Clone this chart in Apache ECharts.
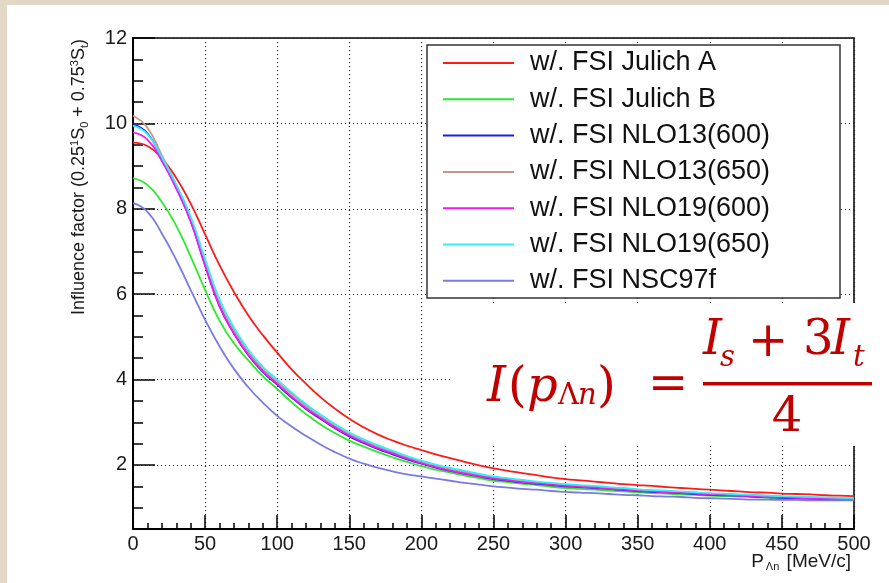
<!DOCTYPE html>
<html>
<head>
<meta charset="utf-8">
<script src="https://cdn.jsdelivr.net/npm/echarts@6/dist/echarts.min.js"></script>
<style>
  html, body { margin:0; padding:0; width:889px; height:583px; overflow:hidden; background:#e3d8c5; }
  #panel { position:absolute; left:7px; top:5px; width:882px; height:578px; background:#ffffff; }
  #chart { position:absolute; left:0; top:0; width:889px; height:583px; }
</style>
</head>
<body>
<div id="panel"></div>
<div id="chart"></div>
<script>
// momentum P_Λn [MeV/c], 0..500 in steps of 10
const xs = [0,10,20,30,40,50,60,70,80,90,100,110,120,130,140,150,160,170,180,190,200,210,220,230,240,250,260,270,280,290,300,310,320,330,340,350,360,370,380,390,400,410,420,430,440,450,460,470,480,490,500];
const julichA = [9.55,9.47,9.18,8.72,8.12,7.40,6.68,6.05,5.50,5.04,4.63,4.24,3.90,3.59,3.32,3.08,2.88,2.71,2.57,2.45,2.35,2.25,2.16,2.07,1.99,1.92,1.86,1.81,1.76,1.71,1.67,1.64,1.61,1.58,1.55,1.53,1.51,1.48,1.46,1.44,1.42,1.40,1.38,1.36,1.35,1.33,1.32,1.31,1.29,1.28,1.27];
const julichB = [8.72,8.56,8.16,7.60,6.88,6.10,5.38,4.85,4.45,4.08,3.78,3.47,3.19,2.95,2.75,2.57,2.43,2.30,2.18,2.07,1.97,1.89,1.82,1.75,1.69,1.63,1.60,1.56,1.53,1.49,1.46,1.44,1.42,1.40,1.38,1.36,1.34,1.33,1.31,1.30,1.28,1.27,1.26,1.25,1.23,1.22,1.21,1.20,1.19,1.19,1.18];
const nlo13_600 = [9.98,9.77,9.17,8.50,7.72,6.68,5.72,5.08,4.57,4.18,3.88,3.58,3.31,3.08,2.86,2.67,2.51,2.37,2.25,2.13,2.03,1.94,1.86,1.79,1.73,1.67,1.63,1.59,1.56,1.53,1.50,1.48,1.46,1.44,1.41,1.39,1.37,1.36,1.34,1.32,1.30,1.29,1.28,1.26,1.25,1.23,1.22,1.21,1.20,1.20,1.19];
const nlo13_650 = [10.18,9.90,9.25,8.56,7.78,6.76,5.82,5.16,4.65,4.25,3.95,3.66,3.38,3.14,2.92,2.73,2.57,2.43,2.30,2.18,2.08,1.99,1.91,1.84,1.77,1.71,1.67,1.63,1.59,1.56,1.53,1.51,1.49,1.46,1.44,1.42,1.40,1.38,1.36,1.35,1.33,1.32,1.30,1.29,1.28,1.26,1.25,1.24,1.23,1.22,1.21];
const nlo19_600 = [9.79,9.62,9.12,8.47,7.70,6.67,5.72,5.08,4.58,4.20,3.90,3.60,3.33,3.10,2.88,2.69,2.53,2.39,2.27,2.15,2.04,1.95,1.87,1.80,1.74,1.68,1.64,1.60,1.57,1.54,1.51,1.49,1.47,1.44,1.42,1.40,1.38,1.36,1.35,1.33,1.31,1.30,1.28,1.27,1.25,1.24,1.23,1.22,1.21,1.20,1.19];
const nlo19_650 = [9.95,9.75,9.20,8.56,7.82,6.82,5.88,5.22,4.70,4.30,4.00,3.70,3.42,3.18,2.96,2.76,2.60,2.46,2.33,2.21,2.10,2.01,1.93,1.86,1.79,1.73,1.69,1.65,1.61,1.58,1.55,1.53,1.51,1.48,1.46,1.43,1.41,1.40,1.38,1.36,1.34,1.33,1.31,1.30,1.28,1.27,1.26,1.25,1.24,1.23,1.22];
const nsc97f = [8.13,7.93,7.42,6.80,6.10,5.40,4.78,4.25,3.82,3.46,3.15,2.90,2.68,2.48,2.30,2.15,2.03,1.93,1.85,1.78,1.73,1.68,1.63,1.58,1.54,1.50,1.47,1.44,1.42,1.39,1.37,1.35,1.34,1.32,1.30,1.29,1.27,1.26,1.25,1.23,1.22,1.21,1.20,1.19,1.19,1.18,1.18,1.17,1.17,1.17,1.17];

const seriesNames = ['w/. FSI Julich A','w/. FSI Julich B','w/. FSI NLO13(600)','w/. FSI NLO13(650)','w/. FSI NLO19(600)','w/. FSI NLO19(650)','w/. FSI NSC97f'];
const seriesValues = [julichA, julichB, nlo13_600, nlo13_650, nlo19_600, nlo19_650, nsc97f];
const seriesColors = ['#ff1a1a','#2ee82e','#1a1af0','#c8948c','#f01af0','#2ef0f8','#7a7ae4'];

const yMajorTicks = [2,4,6,8,10,12];
const yMinorTicks = [0.5,1,1.5,2.5,3,3.5,4.5,5,5.5,6.5,7,7.5,8.5,9,9.5,10.5,11,11.5];

const chart = echarts.init(document.getElementById('chart'), null, {renderer:'canvas'});

const series = seriesNames.map((name, i) => ({
  name: name,
  type: 'line',
  data: xs.map((x, k) => [x, seriesValues[i][k]]),
  smooth: 0.5,
  symbol: 'none',
  showSymbol: false,
  lineStyle: { color: seriesColors[i], width: 1.8 },
  itemStyle: { color: seriesColors[i] },
  z: 2
}));

const F = 'DejaVu Serif';
const RED = '#c00000';
function ftext(t, x, baseline, size, italic, align) {
  return {
    type: 'text', x: x, y: baseline - 0.346 * size, z: 11,
    style: {
      text: t, fontSize: size, fontFamily: F, fontStyle: italic ? 'italic' : 'normal',
      fill: RED, align: align || 'left', textAlign: align || 'left',
      verticalAlign: 'middle', textVerticalAlign: 'middle'
    }
  };
}

const option = {
  animation: false,
  backgroundColor: 'transparent',
  grid: { left: 133, top: 38, right: 35, bottom: 54, show: true, borderColor: '#000', borderWidth: 1.5, backgroundColor: 'transparent' },
  xAxis: {
    type: 'value', min: 0, max: 500, interval: 50,
    axisLine: { show: true, lineStyle: { color: '#000', width: 2 } },
    axisTick: { show: true, inside: true, length: 14, lineStyle: { color: '#000', width: 1.5 } },
    minorTick: { show: true, splitNumber: 5, length: 6, lineStyle: { color: '#000', width: 1.5 } },
    axisLabel: { fontSize: 20, fontFamily: 'Liberation Sans', color: '#1a1a1a', margin: 5, showMaxLabel: true, showMinLabel: true },
    splitLine: { show: true, lineStyle: { color: '#222', width: 1.2, type: [1, 3] } }
  },
  yAxis: [{
    type: 'value', min: 0.5, max: 12, splitNumber: 6, position: 'left',
    axisLine: { show: true, lineStyle: { color: '#000', width: 2 } },
    axisTick: { show: true, inside: true, length: 22, customValues: yMajorTicks, lineStyle: { color: '#000', width: 1.5 } },
    axisLabel: { customValues: yMajorTicks, fontSize: 20, fontFamily: 'Liberation Sans', color: '#1a1a1a', margin: 6 },
    splitLine: { show: true, lineStyle: { color: '#222', width: 1.2, type: [1, 3] } }
  }, {
    type: 'value', min: 0.5, max: 12, position: 'left',
    axisLine: { show: false },
    axisTick: { show: true, inside: true, length: 10, customValues: yMinorTicks, lineStyle: { color: '#000', width: 1.5 } },
    axisLabel: { show: false },
    splitLine: { show: false }
  }],
  legend: {
    data: seriesNames,
    orient: 'vertical', left: 427, top: 45,
    padding: [0, 10, 0, 16],
    itemWidth: 71, itemHeight: 2, itemGap: 0.3,
    icon: 'rect',
    selectedMode: false,
    textStyle: { fontSize: 27, fontFamily: 'Liberation Sans', color: '#111', lineHeight: 36, padding: [0, 0, 0, 11] },
    z: 4
  },
  series: series,
  graphic: [
    // legend frame
    { type: 'rect', z: 3, shape: { x: 427, y: 45, width: 413, height: 253 },
      style: { fill: '#fff', stroke: '#333', lineWidth: 1.5 } },
    // y axis title
    { type: 'text', x: 79, y: 39, rotation: Math.PI / 2, z: 5,
      style: {
        text: 'Influence factor (0.25{sup|1}S{sub|0} + 0.75{sup|3}S{sub|t})',
        fontSize: 18, fontFamily: 'Liberation Sans', fill: '#1a1a1a',
        align: 'right', textAlign: 'right', verticalAlign: 'middle', textVerticalAlign: 'middle',
        rich: {
          sup: { fontSize: 11, fontFamily: 'Liberation Sans', fill: '#1a1a1a', padding: [0, 0, 9, 0] },
          sub: { fontSize: 11, fontFamily: 'Liberation Sans', fill: '#1a1a1a', padding: [11, 0, 0, 0] }
        }
      } },
    // x axis title
    { type: 'text', x: 851, y: 561.5, z: 5,
      style: {
        text: 'P{sub|Λn} [MeV/c]',
        fontSize: 19, fontFamily: 'Liberation Sans', fill: '#1a1a1a',
        align: 'right', textAlign: 'right', verticalAlign: 'middle', textVerticalAlign: 'middle',
        rich: {
          sub: { fontSize: 11, fontFamily: 'Liberation Sans', fill: '#1a1a1a', padding: [10, 2, 0, 2] }
        }
      } },
    // formula background
    { type: 'rect', z: 10, shape: { x: 452, y: 303, width: 437, height: 143 }, style: { fill: '#fff' } },
    ftext('I', 487, 405, 48, true),
    ftext('(', 508, 405, 48, false),
    ftext('p', 527, 405, 48, true),
    ftext('Λ', 558, 407, 29, false),
    ftext('n', 578, 407, 29, true),
    ftext(')', 597, 405, 48, false),
    ftext('=', 668, 403, 48, false, 'center'),
    { type: 'rect', z: 11, shape: { x: 703, y: 382, width: 169, height: 3.5 }, style: { fill: RED } },
    ftext('I', 703, 358, 48, true),
    ftext('s', 720, 369, 29, true),
    ftext('+', 768, 360, 48, false, 'center'),
    ftext('3', 803, 358, 48, false),
    ftext('I', 831, 358, 48, true),
    ftext('t', 853, 369, 29, true),
    ftext('4', 787, 435, 48, false, 'center')
  ]
};
chart.setOption(option);
</script>
</body>
</html>
